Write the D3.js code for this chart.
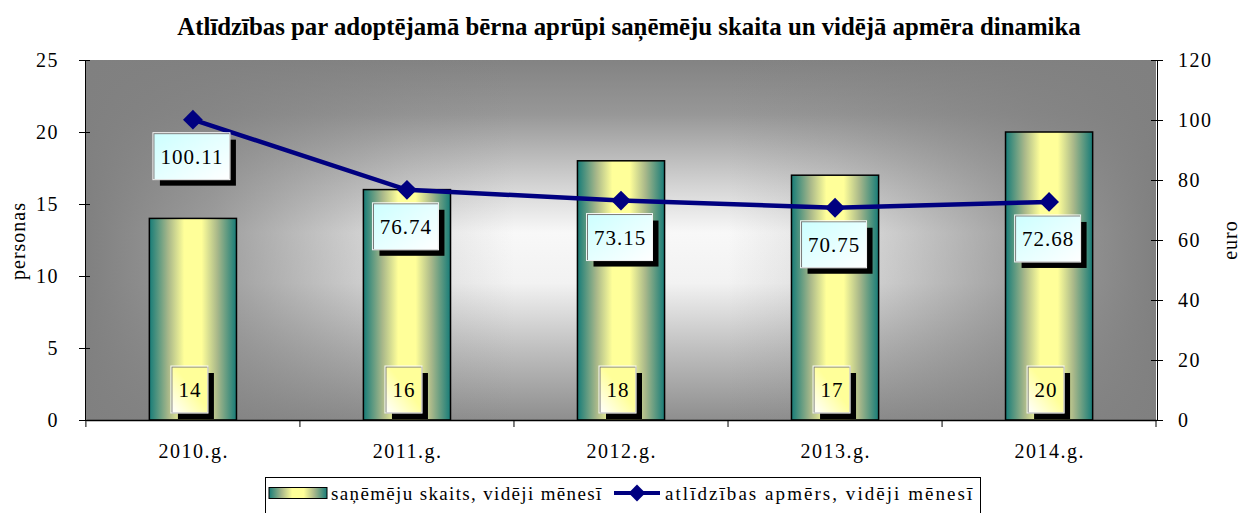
<!DOCTYPE html>
<html>
<head>
<meta charset="utf-8">
<script src="https://cdn.jsdelivr.net/npm/d3@7"></script>
<style>
  html, body { margin: 0; padding: 0; background: #ffffff; }
  svg { display: block; }
</style>
</head>
<body>
<svg id="chart" width="1240" height="513"></svg>
<script>
// Chart data
const years = ["2010.g.", "2011.g.", "2012.g.", "2013.g.", "2014.g."];
const recipients = [14, 16, 18, 17, 20];            // persons per month (left axis)
const benefit = [100.11, 76.74, 73.15, 70.75, 72.68]; // euro per month (right axis)
const leftTicks = [0, 5, 10, 15, 20, 25];
const rightTicks = [0, 20, 40, 60, 80, 100, 120];
const title = "Atlīdzības par adoptējamā bērna aprūpi saņēmēju skaita un vidējā apmēra dinamika";
const seriesNames = ["saņēmēju skaits, vidēji mēnesī", "atlīdzības apmērs, vidēji mēnesī"];

const FONT = "Liberation Serif";
const svg = d3.select("#chart");
const plot = { left: 86, right: 1156, top: 60, bottom: 420 };

const defs = svg.append("defs");

// plot area backdrop: light band across the middle, grey towards every edge
const bgV = defs.append("linearGradient").attr("id", "bgV")
  .attr("x1", "0").attr("x2", "0").attr("y1", "0").attr("y2", "1");
[["0%", "#838383"], ["15%", "#979797"], ["35%", "#d4d4d4"], ["48%", "#f8f8f8"], ["62%", "#f2f2f2"], ["80%", "#c0c0c0"], ["100%", "#8e8e8e"]]
  .forEach(([o, c]) => bgV.append("stop").attr("offset", o).attr("stop-color", c));
const bgH = defs.append("linearGradient").attr("id", "bgH")
  .attr("x1", "0").attr("x2", "1").attr("y1", "0").attr("y2", "0");
[["0%", 1], ["12%", 0.75], ["30%", 0.2], ["40%", 0], ["60%", 0], ["70%", 0.2], ["88%", 0.75], ["100%", 1]]
  .forEach(([o, a]) => bgH.append("stop").attr("offset", o).attr("stop-color", "#808080").attr("stop-opacity", a));

// bar fill: teal edges, pale yellow middle
const barGrad = defs.append("linearGradient").attr("id", "barGrad")
  .attr("x1", "0").attr("x2", "1").attr("y1", "0").attr("y2", "0");
[["0%", "#177c78"], ["22%", "#a9b88a"], ["40%", "#ffff99"], ["60%", "#ffff99"], ["78%", "#a9b88a"], ["100%", "#177c78"]]
  .forEach(([o, c]) => barGrad.append("stop").attr("offset", o).attr("stop-color", c));

// label box fills
const cyanGrad = defs.append("linearGradient").attr("id", "cyanGrad")
  .attr("x1", "0").attr("y1", "0").attr("x2", "1").attr("y2", "1");
cyanGrad.append("stop").attr("offset", "0%").attr("stop-color", "#ccffff");
cyanGrad.append("stop").attr("offset", "100%").attr("stop-color", "#ffffff");
const yellowGrad = defs.append("linearGradient").attr("id", "yellowGrad")
  .attr("x1", "1").attr("y1", "0").attr("x2", "0").attr("y2", "1");
yellowGrad.append("stop").attr("offset", "0%").attr("stop-color", "#ffff99");
yellowGrad.append("stop").attr("offset", "45%").attr("stop-color", "#ffff99");
yellowGrad.append("stop").attr("offset", "100%").attr("stop-color", "#ffffff");

// scales
const x = d3.scaleBand().domain(years).range([plot.left, plot.right]).paddingInner(0.593).paddingOuter(0.296);
const xCenter = d => x(d) + x.bandwidth() / 2;
const yL = d3.scaleLinear().domain([0, 25]).range([plot.bottom, plot.top]);
const yR = d3.scaleLinear().domain([0, 120]).range([plot.bottom, plot.top]);

function serif(sel, size, spacing) {
  return sel.style("font-family", FONT).style("font-size", size + "px")
    .style("letter-spacing", (spacing || 0) + "px").attr("fill", "#000");
}

// title
svg.append("text")
  .attr("x", 629).attr("y", 35)
  .attr("text-anchor", "middle")
  .call(serif, 24.8, 0)
  .style("font-weight", "bold")
  .text(title);

// plot background
["url(#bgV)", "url(#bgH)"].forEach(f => svg.append("rect")
  .attr("x", plot.left).attr("y", plot.top)
  .attr("width", plot.right - plot.left).attr("height", plot.bottom - plot.top)
  .attr("fill", f));

// bars
svg.append("g").selectAll("rect").data(recipients).join("rect")
  .attr("x", (d, i) => x(years[i]))
  .attr("y", d => yL(d))
  .attr("width", x.bandwidth())
  .attr("height", d => yL(0) - yL(d))
  .attr("fill", "url(#barGrad)")
  .attr("stroke", "#000").attr("stroke-width", 1.5);

// axes
const leftAxis = svg.append("g").attr("transform", `translate(${plot.left - 1},0)`)
  .call(d3.axisLeft(yL).tickValues(leftTicks).tickSize(6).tickPadding(20).tickSizeOuter(0));
leftAxis.selectAll(".tick line").attr("x2", -6).attr("x1", 5);
leftAxis.selectAll(".tick text").call(serif, 20, 1.5).attr("dy", "0.33em");

const rightAxis = svg.append("g").attr("transform", `translate(${plot.right + 1},0)`)
  .call(d3.axisRight(yR).tickValues(rightTicks).tickSize(6).tickPadding(15).tickSizeOuter(0));
rightAxis.selectAll(".tick line").attr("x2", 6).attr("x1", -6);
rightAxis.selectAll(".tick text").call(serif, 20, 1.5).attr("dy", "0.33em");

const bottomAxis = svg.append("g").attr("transform", `translate(0,${plot.bottom})`)
  .call(d3.axisBottom(x).tickSize(0).tickPadding(24).tickSizeOuter(0));
bottomAxis.selectAll(".tick text").call(serif, 20, 1.5).attr("dx", "0.75px");
bottomAxis.select(".domain").attr("stroke", "#000").attr("stroke-width", 1.5);
// category boundary ticks
const bounds = years.map(d => x(d) - x.step() * x.paddingInner() / 2).concat([plot.right]);
bottomAxis.append("g").selectAll("line").data(bounds).join("line")
  .attr("x1", d => d).attr("x2", d => d).attr("y1", 0).attr("y2", 7)
  .attr("stroke", "#000");
[leftAxis, rightAxis].forEach(a => a.select(".domain").attr("stroke", "#000"));

// axis titles
svg.append("text")
  .attr("transform", `translate(25,241) rotate(-90)`)
  .attr("text-anchor", "middle")
  .call(serif, 20, 1)
  .text("personas");
svg.append("text")
  .attr("transform", `translate(1237,240) rotate(-90)`)
  .attr("text-anchor", "middle")
  .call(serif, 20, 1)
  .text("euro");

// benefit line
const line = d3.line().x((d, i) => xCenter(years[i])).y(d => yR(d));
svg.append("path").datum(benefit)
  .attr("d", line)
  .attr("fill", "none").attr("stroke", "#000080").attr("stroke-width", 4.5);

const diamond = d3.symbol().type(d3.symbolDiamond2).size(250);
svg.append("g").selectAll("path").data(benefit).join("path")
  .attr("transform", (d, i) => `translate(${xCenter(years[i])},${yR(d)})`)
  .attr("d", diamond)
  .attr("fill", "#000080");

// label boxes with drop shadow, sized to their text
function labelBox(g, cx, top, h, fill, txt) {
  const box = g.append("g");
  const shadow = box.append("rect").attr("fill", "#000");
  const face = box.append("rect").attr("fill", fill).attr("stroke", "#777").attr("stroke-width", 1);
  const rim = box.append("rect").attr("fill", "none").attr("stroke", "#fff").attr("stroke-width", 1).attr("opacity", 0.9);
  const t = box.append("text").attr("x", cx).attr("y", top + h / 2).attr("dy", "0.34em")
    .attr("text-anchor", "middle")
    .call(serif, 21, 1)
    .text(txt);
  const w = Math.round(t.node().getComputedTextLength() + 13);
  const left = cx - w / 2;
  shadow.attr("x", left + 6).attr("y", top + 6).attr("width", w).attr("height", h);
  face.attr("x", left).attr("y", top).attr("width", w).attr("height", h);
  rim.attr("x", left - 1).attr("y", top - 1).attr("width", w + 1).attr("height", h + 1);
}

const labels = svg.append("g");
benefit.forEach((v, i) => {
  labelBox(labels, xCenter(years[i]) - 1, yR(v) + 14, 46, "url(#cyanGrad)", d3.format(".2f")(v));
});
recipients.forEach((v, i) => {
  labelBox(labels, xCenter(years[i]) - 3, 367, 46, "url(#yellowGrad)", String(v));
});

// legend
const legend = svg.append("g");
legend.append("rect").attr("x", 265.5).attr("y", 477.5).attr("width", 715).attr("height", 40)
  .attr("fill", "#fff").attr("stroke", "#000");
legend.append("rect").attr("x", 269).attr("y", 487.5).attr("width", 58).attr("height", 11)
  .attr("fill", "url(#barGrad)").attr("stroke", "#000");
legend.append("text").attr("x", 331).attr("y", 494).attr("dy", "0.33em")
  .call(serif, 19, 1.35)
  .text(seriesNames[0]);
legend.append("line").attr("x1", 614).attr("x2", 660).attr("y1", 493).attr("y2", 493)
  .attr("stroke", "#000080").attr("stroke-width", 4);
legend.append("path").attr("transform", "translate(637,493)")
  .attr("d", d3.symbol().type(d3.symbolDiamond2).size(180)).attr("fill", "#000080");
legend.append("text").attr("x", 665).attr("y", 494).attr("dy", "0.33em")
  .call(serif, 19, 2.05)
  .text(seriesNames[1]);
</script>
</body>
</html>
